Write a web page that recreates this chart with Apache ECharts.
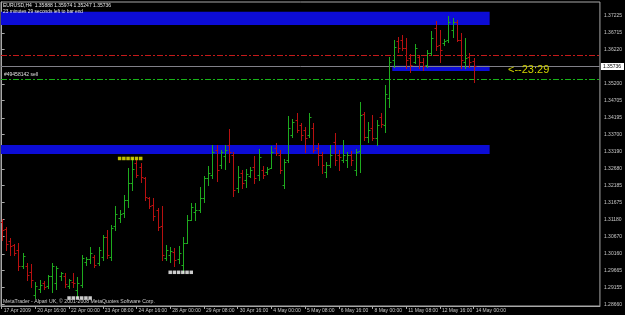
<!DOCTYPE html>
<html>
<head>
<meta charset="utf-8">
<script src="https://cdn.jsdelivr.net/npm/echarts@6/dist/echarts.min.js"></script>
<style>
html, body { margin: 0; padding: 0; background: #000; }
#chart { width: 625px; height: 315px; }
</style>
</head>
<body>
<div id="chart"></div>
<script>
// EURUSD H4 bars
var opens = [1.3110,1.3090,1.3054,1.3042,1.3027,1.2980,1.2980,1.2962,1.2894,1.2911,
  1.2929,1.2920,1.2950,1.2929,1.2950,1.2950,1.2920,1.2932,1.2908,1.2923,
  1.2992,1.3000,1.3006,1.2989,1.3006,1.3066,1.3006,1.3098,1.3122,1.3137,
  1.3176,1.3226,1.3285,1.3274,1.3241,1.3182,1.3161,1.3146,1.3098,1.3003,
  1.3012,1.3021,1.3000,1.2983,1.3048,1.3116,1.3140,1.3146,1.3182,1.3241,
  1.3250,1.3324,1.3280,1.3306,1.3339,1.3309,1.3211,1.3256,1.3235,1.3247,
  1.3274,1.3250,1.3265,1.3259,1.3271,1.3330,1.3309,1.3220,1.3294,1.3368,
  1.3413,1.3398,1.3383,1.3369,1.3389,1.3330,1.3309,1.3259,1.3280,1.3348,
  1.3309,1.3294,1.3294,1.3309,1.3265,1.3321,1.3431,1.3363,1.3389,1.3360,
  1.3422,1.3398,1.3478,1.3591,1.3648,1.3651,1.3627,1.3597,1.3585,1.3600,
  1.3585,1.3576,1.3612,1.3686,1.3636,1.3642,1.3651,1.3680,1.3704,1.3651,
  1.3585,1.3600,1.35888];
var highs = [1.3119,1.3096,1.3063,1.3045,1.3048,1.3018,1.2989,1.2986,1.2932,1.2938,
  1.2935,1.2953,1.2989,1.2980,1.2962,1.2959,1.2941,1.2959,1.2947,1.3012,
  1.3006,1.3036,1.3012,1.3036,1.3072,1.3087,1.3101,1.3158,1.3146,1.3190,
  1.3271,1.3300,1.3294,1.3285,1.3244,1.3185,1.3182,1.3152,1.3158,1.3042,
  1.3036,1.3033,1.3039,1.3066,1.3131,1.3167,1.3167,1.3214,1.3247,1.3277,
  1.3339,1.3339,1.3324,1.3339,1.3386,1.3318,1.3277,1.3265,1.3268,1.3274,
  1.3306,1.3327,1.3277,1.3274,1.3336,1.3345,1.3324,1.3297,1.3425,1.3416,
  1.3434,1.3404,1.3392,1.3434,1.3404,1.3345,1.3318,1.3288,1.3339,1.3375,
  1.3324,1.3354,1.3318,1.3321,1.3327,1.3467,1.3437,1.3407,1.3428,1.3413,
  1.3434,1.3517,1.3600,1.3651,1.3659,1.3665,1.3656,1.3609,1.3639,1.3606,
  1.3597,1.3621,1.3677,1.3707,1.3680,1.3653,1.3722,1.3716,1.3710,1.3671,
  1.3656,1.3612,1.35974];
var lows = [1.3057,1.3027,1.3012,1.3012,1.2968,1.2974,1.2938,1.2917,1.2885,1.2903,
  1.2911,1.2914,1.2903,1.2911,1.2938,1.2917,1.2914,1.2917,1.2888,1.2917,
  1.2983,1.2989,1.2977,1.2983,1.2997,1.3003,1.2997,1.3087,1.3110,1.3125,
  1.3155,1.3205,1.3244,1.3229,1.3176,1.3152,1.3116,1.3087,1.2998,1.2998,
  1.2992,1.2980,1.2989,1.2962,1.3048,1.3116,1.3116,1.3140,1.3170,1.3220,
  1.3241,1.3232,1.3271,1.3268,1.3288,1.3187,1.3199,1.3211,1.3214,1.3244,
  1.3226,1.3235,1.3241,1.3253,1.3271,1.3309,1.3256,1.3211,1.3288,1.3363,
  1.3377,1.3354,1.3318,1.3363,1.3318,1.3280,1.3256,1.3244,1.3274,1.3280,
  1.3265,1.3288,1.3274,1.3280,1.3250,1.3259,1.3354,1.3348,1.3354,1.3339,
  1.3392,1.3377,1.3452,1.3570,1.3615,1.3621,1.3567,1.3556,1.3582,1.3567,
  1.3561,1.3570,1.3606,1.3621,1.3585,1.3636,1.3645,1.3659,1.3648,1.3567,
  1.3567,1.3570,1.35247];
var closes = [1.3087,1.3045,1.3039,1.3018,1.2980,1.3009,1.2953,1.2938,1.2920,1.2923,
  1.2917,1.2950,1.2980,1.2974,1.2959,1.2926,1.2938,1.2929,1.2929,1.3003,
  1.3000,1.3018,1.2983,1.3027,1.3066,1.3012,1.3092,1.3134,1.3134,1.3176,
  1.3226,1.3268,1.3250,1.3244,1.3185,1.3158,1.3128,1.3096,1.3012,1.3027,
  1.3024,1.2998,1.3018,1.3048,1.3116,1.3155,1.3146,1.3182,1.3241,1.3256,
  1.3318,1.3265,1.3318,1.3324,1.3318,1.3205,1.3244,1.3226,1.3253,1.3265,
  1.3241,1.3303,1.3250,1.3268,1.3318,1.3315,1.3265,1.3288,1.3389,1.3407,
  1.3383,1.3369,1.3360,1.3422,1.3324,1.3309,1.3280,1.3280,1.3309,1.3294,
  1.3303,1.3309,1.3309,1.3294,1.3318,1.3428,1.3363,1.3383,1.3360,1.3398,
  1.3401,1.3490,1.3585,1.3630,1.3627,1.3627,1.3591,1.3576,1.3627,1.3585,
  1.3573,1.3612,1.3656,1.3633,1.3621,1.3648,1.3704,1.3704,1.3651,1.3591,
  1.3597,1.3585,1.35736];

var timeTickIndex = [0, 8, 16, 24, 32, 40, 48, 56, 64, 72, 80, 88, 96, 104, 112];
var timeTickLabels = ['17 Apr 2009', '20 Apr 16:00', '22 Apr 00:00', '23 Apr 08:00', '24 Apr 16:00',
  '28 Apr 00:00', '29 Apr 08:00', '30 Apr 16:00', '4 May 00:00', '5 May 08:00', '6 May 16:00',
  '8 May 00:00', '11 May 08:00', '12 May 16:00', '14 May 00:00'];
var priceTickLabels = ['1.28660', '1.29155', '1.29665', '1.30160', '1.30670', '1.31180', '1.31675',
  '1.32185', '1.32680', '1.33190', '1.33700', '1.34195', '1.34705', '1.35200', '1.36220',
  '1.36715', '1.37225'];

// rectangles drawn on the chart
var zoneFrom = [-0.15, -0.15, 92.7];
var zoneTo = [115.8, 115.8, 115.8];
var zoneTop = [1.37345, 1.33388, 1.35742];
var zoneBottom = [1.36950, 1.33121, 1.35585];

// horizontal lines: stop level, sell order, bid
var levelPrices = [1.36060, 1.35362, 1.35736];

var yellowMarkIndex = [28, 29, 30, 31, 32, 33];
var yellowMarkPrice = 1.32989;
var whiteMarkIndex = [40, 41, 42, 43, 44, 45];
var whiteMarkPrice = 1.29610;
var lowMarkIndex = [16, 17, 18, 19, 20, 21];
var lowMarkPrice = 1.28847;

var UP = '#1eaa1e';
var DOWN = '#b81010';
var FONT = "'Liberation Sans', Arial, sans-serif";
var levelColors = ['#c41a1a', '#18b418', '#808088'];
var levelDash = [[6, 2, 2, 2], [6, 2, 2, 2], null];

var barData = opens.map(function (o, i) {
    return [i, o, highs[i], lows[i], closes[i]];
});
var zoneData = zoneFrom.map(function (f, i) {
    return [f, zoneTo[i], zoneTop[i], zoneBottom[i]];
});
var levelData = levelPrices.map(function (p) { return [0, p]; });

function renderBar(params, api) {
    var i = api.value(0);
    var hi = api.coord([i, api.value(2)]);
    var lo = api.coord([i, api.value(3)]);
    var op = api.coord([i, api.value(1)]);
    var cl = api.coord([i, api.value(4)]);
    var color = api.value(4) >= api.value(1) ? UP : DOWN;
    var x = Math.round(hi[0]) + 0.5;
    var st = { stroke: color, lineWidth: 1 };
    return {
        type: 'group',
        children: [
            { type: 'line', shape: { x1: x, y1: Math.round(hi[1]), x2: x, y2: Math.round(lo[1]) + 1 }, style: st },
            { type: 'line', shape: { x1: x - 2, y1: Math.round(op[1]) + 0.5, x2: x, y2: Math.round(op[1]) + 0.5 }, style: st },
            { type: 'line', shape: { x1: x, y1: Math.round(cl[1]) + 0.5, x2: x + 2, y2: Math.round(cl[1]) + 0.5 }, style: st }
        ]
    };
}

function renderZone(params, api) {
    var a = api.coord([api.value(0), api.value(2)]);
    var b = api.coord([api.value(1), api.value(3)]);
    return {
        type: 'rect',
        shape: { x: a[0], y: a[1], width: b[0] - a[0], height: b[1] - a[1] },
        style: { fill: '#0c0cd6' }
    };
}

function renderLevel(params, api) {
    var cs = params.coordSys;
    var k = params.dataIndex;
    var y = Math.round(api.coord([0, api.value(1)])[1]) + 0.5;
    var children = [{
        type: 'line',
        shape: { x1: cs.x, y1: y, x2: cs.x + cs.width, y2: y },
        style: { stroke: levelColors[k], lineWidth: 1, lineDash: levelDash[k] }
    }];
    if (k === 2) {
        // bid price box on the price scale
        children.push({
            type: 'text',
            x: cs.x + cs.width + 1,
            y: y,
            style: {
                text: api.value(1).toFixed(5),
                fill: '#000000',
                backgroundColor: '#ffffff',
                padding: [1, 3, 1, 2],
                font: '5px ' + FONT,
                verticalAlign: 'middle'
            }
        });
    }
    return { type: 'group', children: children };
}

function marks(idx, price) {
    return idx.map(function (i) { return [i, price]; });
}

var chart = echarts.init(document.getElementById('chart'));

var option = {
    backgroundColor: '#000000',
    animation: false,
    grid: {
        left: 1, top: 2, width: 604, height: 304,
        show: true, borderColor: '#a8a8a8', borderWidth: 1
    },
    xAxis: {
        type: 'value',
        min: -0.15,
        max: 141.97,
        axisLine: { show: true, lineStyle: { color: '#a8a8a8' } },
        axisTick: { show: true, length: 3, customValues: timeTickIndex, lineStyle: { color: '#a8a8a8' } },
        splitLine: { show: false },
        axisLabel: {
            customValues: timeTickIndex,
            align: 'left',
            margin: 2,
            padding: [0, 0, 0, 2],
            color: '#c8c8c8',
            fontSize: 5,
            fontFamily: FONT,
            formatter: function (v) {
                var k = timeTickIndex.indexOf(Math.round(v));
                return k >= 0 ? timeTickLabels[k] : '';
            }
        }
    },
    yAxis: {
        type: 'value',
        position: 'right',
        min: 1.28610,
        max: 1.37633,
        axisLine: { show: true, lineStyle: { color: '#a8a8a8' } },
        axisTick: { show: true, length: 3, customValues: priceTickLabels.map(Number), lineStyle: { color: '#a8a8a8' } },
        splitLine: { show: false },
        axisLabel: {
            customValues: priceTickLabels.map(Number),
            margin: 4,
            color: '#c8c8c8',
            fontSize: 5,
            fontFamily: FONT,
            formatter: function (v) { return v.toFixed(5); }
        }
    },
    series: [
        {
            name: 'zones',
            type: 'custom',
            renderItem: renderZone,
            data: zoneData,
            encode: { x: [0, 1], y: [2, 3] },
            silent: true,
            z: 1
        },
        {
            name: 'levels',
            type: 'custom',
            renderItem: renderLevel,
            data: levelData,
            encode: { x: 0, y: 1 },
            silent: true,
            z: 2
        },
        {
            name: 'EURUSD',
            type: 'custom',
            renderItem: renderBar,
            data: barData,
            encode: { x: 0, y: [1, 2, 3, 4] },
            clip: true,
            z: 3
        },
        {
            type: 'scatter',
            data: marks(yellowMarkIndex, yellowMarkPrice),
            symbol: 'rect', symbolSize: 3.5,
            itemStyle: { color: '#f0f000' },
            z: 4
        },
        {
            type: 'scatter',
            data: marks(whiteMarkIndex, whiteMarkPrice).concat(marks(lowMarkIndex, lowMarkPrice)),
            symbol: 'rect', symbolSize: 3.5,
            itemStyle: { color: '#ffffff' },
            z: 4
        }
    ],
    graphic: [
        {
            type: 'text', left: 3, top: 3, z: 10,
            style: {
                text: 'EURUSD,H4  ' + [opens[112], highs[112], lows[112], closes[112]].map(function (v) { return v.toFixed(5); }).join(' '),
                fill: '#e8e8e8', font: '5px ' + FONT
            }
        },
        {
            type: 'text', left: 3, top: 9, z: 10,
            style: { text: '23 minutes 29 seconds left to bar end', fill: '#e8e8e8', font: '4.8px ' + FONT }
        },
        {
            type: 'text', left: 4, top: 72, z: 10,
            style: { text: '#49458142 sell', fill: '#e0e0e0', font: '5px ' + FONT }
        },
        {
            type: 'text', left: 508, top: 64, z: 10,
            style: { text: '<--23:29', fill: '#d2d200', font: '11px ' + FONT }
        },
        {
            type: 'text', left: 3, top: 299, z: 10,
            style: { text: 'MetaTrader - Alpari UK, \u00a9 2001-2008 MetaQuotes Software Corp.', fill: '#d0d0d0', font: '5.2px ' + FONT }
        }
    ]
};

chart.setOption(option);
</script>
</body>
</html>
